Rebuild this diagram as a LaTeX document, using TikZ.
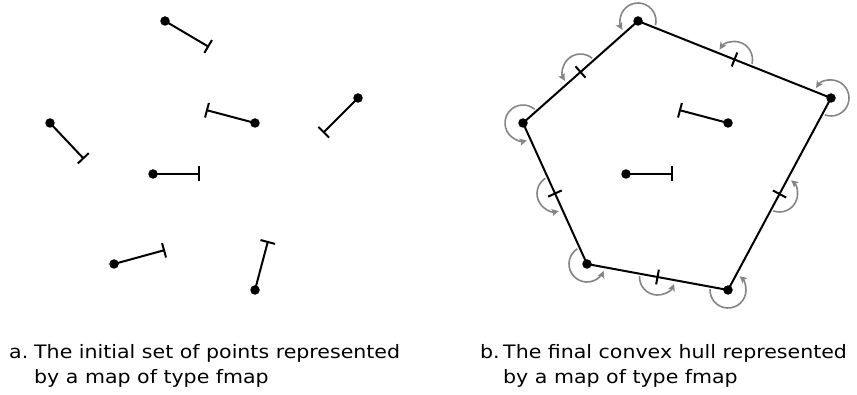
\documentclass[tikz,border=0pt]{standalone}
\usepackage{fontspec}
\setmainfont{DejaVu Sans}[FakeStretch=1.11]
\usetikzlibrary{calc,arrows.meta}
\tikzset{
  dot/.style={circle,fill=black,inner sep=0pt,minimum size=9.5pt},
  stick/.style={line width=2pt,-{Bar[width=15pt,line width=2pt]}},
  edge/.style={line width=2pt},
  turn/.style={line width=1.6pt,draw=black!48,-{Stealth[length=7pt,width=7pt,inset=1.5pt]}},
  caption/.style={anchor=base west,inner sep=0pt,font=\fontsize{18.5pt}{25pt}\selectfont}
}
\newcommand{\turnarc}[3]{%
  \draw[turn] let \p1=($(#2)-(#1)$), \p2=($(#3)-(#1)$),
    \n1={atan2(\y1,\x1)+8},
    \n2={\n1+mod(atan2(\y2,\x2)-atan2(\y1,\x1)+720,360)-20}
  in ($(#1)+(\n1:18)$) arc[start angle=\n1, end angle=\n2, radius=18];}
\begin{document}
\begin{tikzpicture}[x=1pt,y=1pt]
\useasboundingbox (0,0) rectangle (857,394);
% left panel
\node[dot] (P1) at (165,373) {};
\node[dot] (P2) at (50,271) {};
\node[dot] (P3) at (255,271) {};
\node[dot] (P4) at (358,296) {};
\node[dot] (P5) at (153,220) {};
\node[dot] (P6) at (114,130) {};
\node[dot] (P7) at (255,104) {};
\coordinate (B1) at (209,347);
\coordinate (B2) at (84,235);
\coordinate (B3) at (206,284);
\coordinate (B4) at (323,261);
\coordinate (B5) at (200,220);
\coordinate (B6) at (165,144);
\coordinate (B7) at (268,153);
\foreach \i in {1,...,7}{\draw[stick] (P\i.center) -- (B\i);}
% right panel
\node[dot] (Q1) at (638,373) {};
\node[dot] (Q2) at (523,271) {};
\node[dot] (Q3) at (728,271) {};
\node[dot] (Q4) at (831,296) {};
\node[dot] (Q5) at (626,220) {};
\node[dot] (Q6) at (587,130) {};
\node[dot] (Q7) at (728,104) {};
\coordinate (C3) at (679,284);
\coordinate (C5) at (673,220);
\draw[stick] (Q3.center) -- (C3);
\draw[stick] (Q5.center) -- (C5);
\draw[edge,line join=round] (Q1.center) -- (Q4.center) -- (Q7.center) -- (Q6.center) -- (Q2.center) -- cycle;
\coordinate (M14) at ($(Q1)!0.5!(Q4)$);
\coordinate (M47) at ($(Q4)!0.5!(Q7)$);
\coordinate (M76) at ($(Q7)!0.5!(Q6)$);
\coordinate (M62) at ($(Q6)!0.5!(Q2)$);
\coordinate (M21) at ($(Q2)!0.5!(Q1)$);
\foreach \m/\b in {M14/Q4,M47/Q7,M76/Q6,M62/Q2,M21/Q1}{
  \draw[edge] ($(\m)!7.5pt!90:(\b)$) -- ($(\m)!7.5pt!-90:(\b)$);}
% rotation arrows
\turnarc{Q1}{Q4}{Q2}
\turnarc{Q4}{Q7}{Q1}
\turnarc{Q7}{Q6}{Q4}
\turnarc{Q6}{Q2}{Q7}
\turnarc{Q2}{Q1}{Q6}
\turnarc{M14}{Q4}{Q1}
\turnarc{M47}{Q7}{Q4}
\turnarc{M76}{Q6}{Q7}
\turnarc{M62}{Q2}{Q6}
\turnarc{M21}{Q1}{Q2}
% captions
\node[caption] (la) at (9,36) {a.};
\node[caption] (ta1) at (34,36) {The initial set of points represented};
\node[caption] (ta2) at (34,11) {by a map of type fmap};
\node[caption] (lb) at (480,36) {b.};
\node[caption] (tb1) at (503,36) {The final convex hull represented};
\node[caption] (tb2) at (503,11) {by a map of type fmap};
\end{tikzpicture}
\end{document}
